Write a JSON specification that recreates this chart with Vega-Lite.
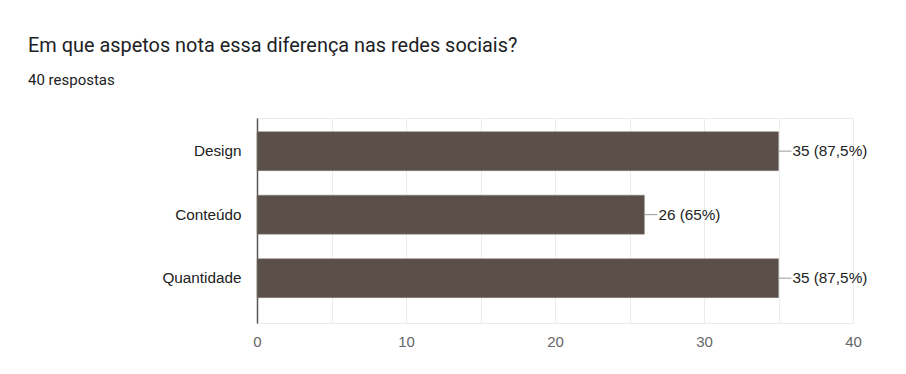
{
  "$schema": "https://vega.github.io/schema/vega-lite/v6.json",
  "autosize": {"type": "none"},
  "width": 596,
  "height": 205,
  "padding": {"left": 257, "top": 118, "right": 53, "bottom": 51},
  "background": "white",
  "title": {
    "text": "Em que aspetos nota essa diferença nas redes sociais?",
    "subtitle": "40 respostas",
    "anchor": "start",
    "frame": "group",
    "dx": -229,
    "offset": 30,
    "font": "Roboto",
    "fontSize": 19.9,
    "fontWeight": "normal",
    "color": "#202124",
    "subtitleFont": "Roboto",
    "subtitleFontSize": 15,
    "subtitleColor": "#202124",
    "subtitlePadding": 17
  },
  "data": {
    "values": [
      {"aspeto": "Design", "respostas": 35, "rotulo": "35 (87,5%)"},
      {"aspeto": "Conteúdo", "respostas": 26, "rotulo": "26 (65%)"},
      {"aspeto": "Quantidade", "respostas": 35, "rotulo": "35 (87,5%)"}
    ]
  },
  "encoding": {
    "y": {
      "field": "aspeto",
      "type": "nominal",
      "sort": null,
      "title": null,
      "scale": {"paddingInner": 0.386, "paddingOuter": 0.307, "align": 0.35},
      "axis": {
        "ticks": false,
        "domainColor": "#555555",
        "domainWidth": 1.5,
        "labelFont": "Liberation Sans",
        "labelFontSize": 15.3,
        "labelColor": "#222222",
        "labelPadding": 16,
        "grid": false
      }
    }
  },
  "layer": [
    {
      "mark": {"type": "bar", "color": "#5b4f4a", "stroke": "#8a807b", "strokeWidth": 0.5},
      "encoding": {
        "x": {
          "field": "respostas",
          "type": "quantitative",
          "title": null,
          "scale": {"domain": [0, 40], "nice": false},
          "axis": {
            "values": [0, 5, 10, 15, 20, 25, 30, 35, 40],
            "labelExpr": "datum.value % 10 == 0 ? datum.label : ''",
            "labelFlush": false,
            "ticks": false,
            "domain": false,
            "grid": true,
            "gridColor": "#ebebeb",
            "gridWidth": 1,
            "labelFont": "Liberation Sans",
            "labelFontSize": 15,
            "labelColor": "#666666",
            "labelPadding": 11
          }
        }
      }
    },
    {
      "mark": {"type": "rule", "color": "#999999", "strokeWidth": 1, "x2Offset": 13},
      "encoding": {
        "x": {"field": "respostas", "type": "quantitative"},
        "x2": {"field": "respostas"}
      }
    },
    {
      "mark": {"type": "text", "align": "left", "baseline": "middle", "dx": 14, "font": "Liberation Sans", "fontSize": 15.3, "color": "#222222"},
      "encoding": {
        "x": {"field": "respostas", "type": "quantitative"},
        "text": {"field": "rotulo"}
      }
    }
  ],
  "config": {
    "view": {"stroke": "#ebebeb", "strokeWidth": 1}
  }
}
